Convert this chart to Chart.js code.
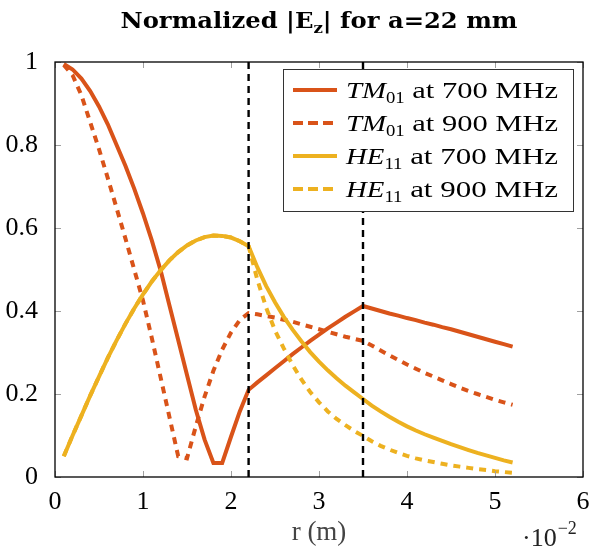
<!DOCTYPE html>
<html>
<head>
<meta charset="utf-8">
<script src="https://cdn.jsdelivr.net/npm/chart.js@4.4.1/dist/chart.umd.min.js"></script>
<style>
  html, body { margin: 0; padding: 0; background: #fff; }
  #wrap { width: 593px; height: 559px; position: relative; }
</style>
</head>
<body>
<div id="wrap"><canvas id="myChart" width="593" height="559"></canvas></div>
<script>
// r en cm (axe multiplié par 10^-2)
const rValues = [0.1,0.2,0.3,0.4,0.5,0.6,0.7,0.8,0.9,1.0,1.1,1.2,1.3,1.4,1.5,1.6,1.7,1.8,1.9,2.0,2.1,2.2,
  2.3,2.4,2.5,2.6,2.7,2.8,2.9,3.0,3.1,3.2,3.3,3.4,3.5,
  3.6,3.7,3.8,3.9,4.0,4.1,4.2,4.3,4.4,4.5,4.6,4.7,4.8,4.9,5.0,5.1,5.2];

const tm01_700 = [0.995,0.982,0.960,0.930,0.893,0.850,0.800,0.750,0.695,0.635,0.570,0.498,0.414,0.330,0.246,0.162,0.090,0.034,0.034,0.097,0.158,0.210,
  0.228,0.245,0.262,0.279,0.296,0.312,0.328,0.343,0.358,0.372,0.386,0.399,0.412,
  0.406,0.400,0.394,0.389,0.383,0.378,0.372,0.367,0.361,0.356,0.350,0.344,0.338,0.332,0.326,0.320,0.314];

const tm01_900 = [0.993,0.968,0.920,0.855,0.790,0.720,0.648,0.575,0.500,0.425,0.335,0.240,0.145,0.050,0.045,0.122,0.194,0.256,0.307,0.348,0.378,0.395,
  0.392,0.388,0.384,0.379,0.374,0.368,0.362,0.356,0.350,0.344,0.338,0.333,0.328,
  0.317,0.305,0.293,0.282,0.271,0.261,0.251,0.242,0.233,0.224,0.215,0.207,0.200,0.193,0.186,0.180,0.174];

const he11_700 = [0.050,0.100,0.148,0.196,0.242,0.287,0.329,0.369,0.406,0.440,0.471,0.498,0.522,0.542,0.558,0.570,0.578,0.582,0.581,0.577,0.568,0.556,
  0.505,0.460,0.421,0.386,0.355,0.327,0.301,0.278,0.257,0.238,0.220,0.204,0.188,
  0.172,0.158,0.145,0.133,0.122,0.112,0.103,0.095,0.087,0.079,0.072,0.065,0.058,0.052,0.046,0.040,0.035];

const he11_900 = [0.050,0.100,0.148,0.196,0.242,0.287,0.329,0.369,0.406,0.440,0.471,0.498,0.522,0.542,0.558,0.570,0.578,0.582,0.581,0.577,0.568,0.556,
  0.475,0.408,0.353,0.310,0.270,0.235,0.205,0.180,0.158,0.140,0.125,0.111,0.099,
  0.086,0.075,0.066,0.058,0.051,0.045,0.040,0.036,0.032,0.028,0.025,0.022,0.019,0.017,0.014,0.012,0.010];

const interfaces = [2.2, 3.5]; // lignes verticales pointillées
const xTicks = [0,1,2,3,4,5,6];
const yTicks = [0,0.2,0.4,0.6,0.8,1];

const ORANGE = '#D95319';
const YELLOW = '#EDB120';
const SERIF = '"Liberation Serif", "DejaVu Serif", serif';
const WIDE = '"DejaVu Serif", serif';

const seriesInfo = [
  { name: 'TM', sub: '01', freq: ' at 700 MHz', data: tm01_700, color: ORANGE, dash: [] },
  { name: 'TM', sub: '01', freq: ' at 900 MHz', data: tm01_900, color: ORANGE, dash: [7, 6] },
  { name: 'HE', sub: '11', freq: ' at 700 MHz', data: he11_700, color: YELLOW, dash: [] },
  { name: 'HE', sub: '11', freq: ' at 900 MHz', data: he11_900, color: YELLOW, dash: [7, 6] }
];

function toPoints(xs, ys) {
  return xs.map((x, i) => ({ x: x, y: ys[i] }));
}

let datasets = seriesInfo.map((s, i) => ({
  label: s.name + s.sub + s.freq,
  data: toPoints(rValues, s.data),
  borderColor: s.color,
  backgroundColor: s.color,
  borderWidth: 4,
  borderDash: s.dash,
  pointRadius: 0,
  tension: 0,
  fill: false,
  order: 10 - i
}));

interfaces.forEach(r => {
  datasets.push({
    label: 'interface',
    data: [{ x: r, y: 0 }, { x: r, y: 1 }],
    borderColor: '#000',
    borderWidth: 2.4,
    borderDash: [7, 5],
    pointRadius: 0,
    fill: false,
    order: 0
  });
});

// petits traits de graduation vers l'intérieur + cadre
const frameTicks = {
  id: 'frameTicks',
  afterDatasetsDraw(chart) {
    const { ctx, chartArea: a, scales } = chart;
    ctx.save();
    ctx.strokeStyle = '#a0a0a0';
    ctx.lineWidth = 1;
    xTicks.forEach(v => {
      const px = Math.round(scales.x.getPixelForValue(v)) + 0.5;
      ctx.beginPath();
      ctx.moveTo(px, a.bottom); ctx.lineTo(px, a.bottom - 6);
      ctx.moveTo(px, a.top); ctx.lineTo(px, a.top + 6);
      ctx.stroke();
    });
    yTicks.forEach(v => {
      const py = Math.round(scales.y.getPixelForValue(v)) + 0.5;
      ctx.beginPath();
      ctx.moveTo(a.left, py); ctx.lineTo(a.left + 6, py);
      ctx.moveTo(a.right, py); ctx.lineTo(a.right - 6, py);
      ctx.stroke();
    });
    ctx.strokeStyle = '#000';
    ctx.lineWidth = 1.3;
    ctx.strokeRect(a.left, a.top, a.right - a.left, a.bottom - a.top);
    ctx.restore();
  }
};

// texte avec largeur imposée (police plus étroite que le Computer Modern d'origine)
function fitText(ctx, txt, x, y, width) {
  const w = ctx.measureText(txt).width;
  ctx.save();
  ctx.translate(x, y);
  ctx.scale(width / w, 1);
  ctx.fillText(txt, 0, 0);
  ctx.restore();
}

// titre, légende et facteur 10^-2 avec indices
const textDecor = {
  id: 'textDecor',
  afterDraw(chart) {
    const { ctx, chartArea: a } = chart;
    ctx.save();
    ctx.fillStyle = '#000';
    ctx.textBaseline = 'alphabetic';

    // titre
    const big = 'bold 22px ' + WIDE;
    const small = 'bold 15px ' + WIDE;
    const parts = [
      { t: 'Normalized |E', f: big, dy: 0 },
      { t: 'z', f: small, dy: 5 },
      { t: '| for a=22 mm', f: big, dy: 0 }
    ];
    let w = 0;
    parts.forEach(p => { ctx.font = p.f; w += ctx.measureText(p.t).width; });
    const k = 397 / w;
    let x = (a.left + a.right) / 2 - 397 / 2;
    parts.forEach(p => {
      ctx.font = p.f;
      const pw = ctx.measureText(p.t).width * k;
      fitText(ctx, p.t, x, 28 + p.dy, pw);
      x += pw;
    });

    // ·10^-2
    ctx.font = '26px ' + SERIF;
    ctx.fillStyle = '#222';
    let ex = 522;
    ctx.fillText('\u00b710', ex, 546);
    ex += ctx.measureText('\u00b710').width;
    ctx.font = '18px ' + SERIF;
    ctx.fillText('\u22122', ex + 1, 534);

    // légende
    const lx = 283, ly = 69, lw = 290, lh = 142;
    ctx.fillStyle = '#fff';
    ctx.fillRect(lx, ly, lw, lh);
    ctx.strokeStyle = '#333';
    ctx.lineWidth = 1;
    ctx.strokeRect(lx + 0.5, ly + 0.5, lw, lh);
    seriesInfo.forEach((s, i) => {
      const cy = 90 + i * 33;
      ctx.strokeStyle = s.color;
      ctx.lineWidth = 4;
      ctx.setLineDash(s.dash.length ? [10, 5] : []);
      ctx.beginPath();
      ctx.moveTo(293, cy); ctx.lineTo(337, cy);
      ctx.stroke();
      ctx.setLineDash([]);
      ctx.fillStyle = '#000';
      let tx = 346;
      const base = cy + 8;
      ctx.font = 'italic 24px ' + SERIF;
      let tw = ctx.measureText(s.name).width * 1.2;
      fitText(ctx, s.name, tx, base, tw);
      tx += tw;
      ctx.font = '17px ' + SERIF;
      tw = ctx.measureText(s.sub).width * 1.1;
      fitText(ctx, s.sub, tx, base + 5, tw);
      tx += tw;
      ctx.font = '24px ' + SERIF;
      fitText(ctx, s.freq, tx, base, 558 - tx);
    });
    ctx.restore();
  }
};

let ctx = document.getElementById('myChart').getContext('2d');
let chart = new Chart(ctx, {
  type: 'line',
  data: { datasets: datasets },
  options: {
    responsive: false,
    animation: false,
    layout: { padding: { top: 62, right: 10, bottom: 0, left: 0 } },
    plugins: {
      legend: { display: false },
      title: { display: false },
      tooltip: { enabled: false }
    },
    scales: {
      x: {
        type: 'linear',
        min: 0, max: 6,
        grid: { display: false },
        border: { display: false },
        afterFit: s => { s.height = 82; },
        afterBuildTicks: s => { s.ticks = xTicks.map(v => ({ value: v })); },
        ticks: { color: '#000', font: { family: SERIF, size: 26 }, padding: 2, maxRotation: 0,
                 callback: v => String(v) },
        title: { display: true, text: 'r (m)', color: '#444', font: { family: SERIF, size: 27 },
                 padding: { top: 6, bottom: 10 } }
      },
      y: {
        min: 0, max: 1,
        grid: { display: false },
        border: { display: false },
        afterFit: s => { s.width = 55; },
        afterBuildTicks: s => { s.ticks = yTicks.map(v => ({ value: v })); },
        ticks: { color: '#000', font: { family: SERIF, size: 26 }, padding: 9,
                 callback: v => String(v) }
      }
    }
  },
  plugins: [frameTicks, textDecor]
});
</script>
</body>
</html>
